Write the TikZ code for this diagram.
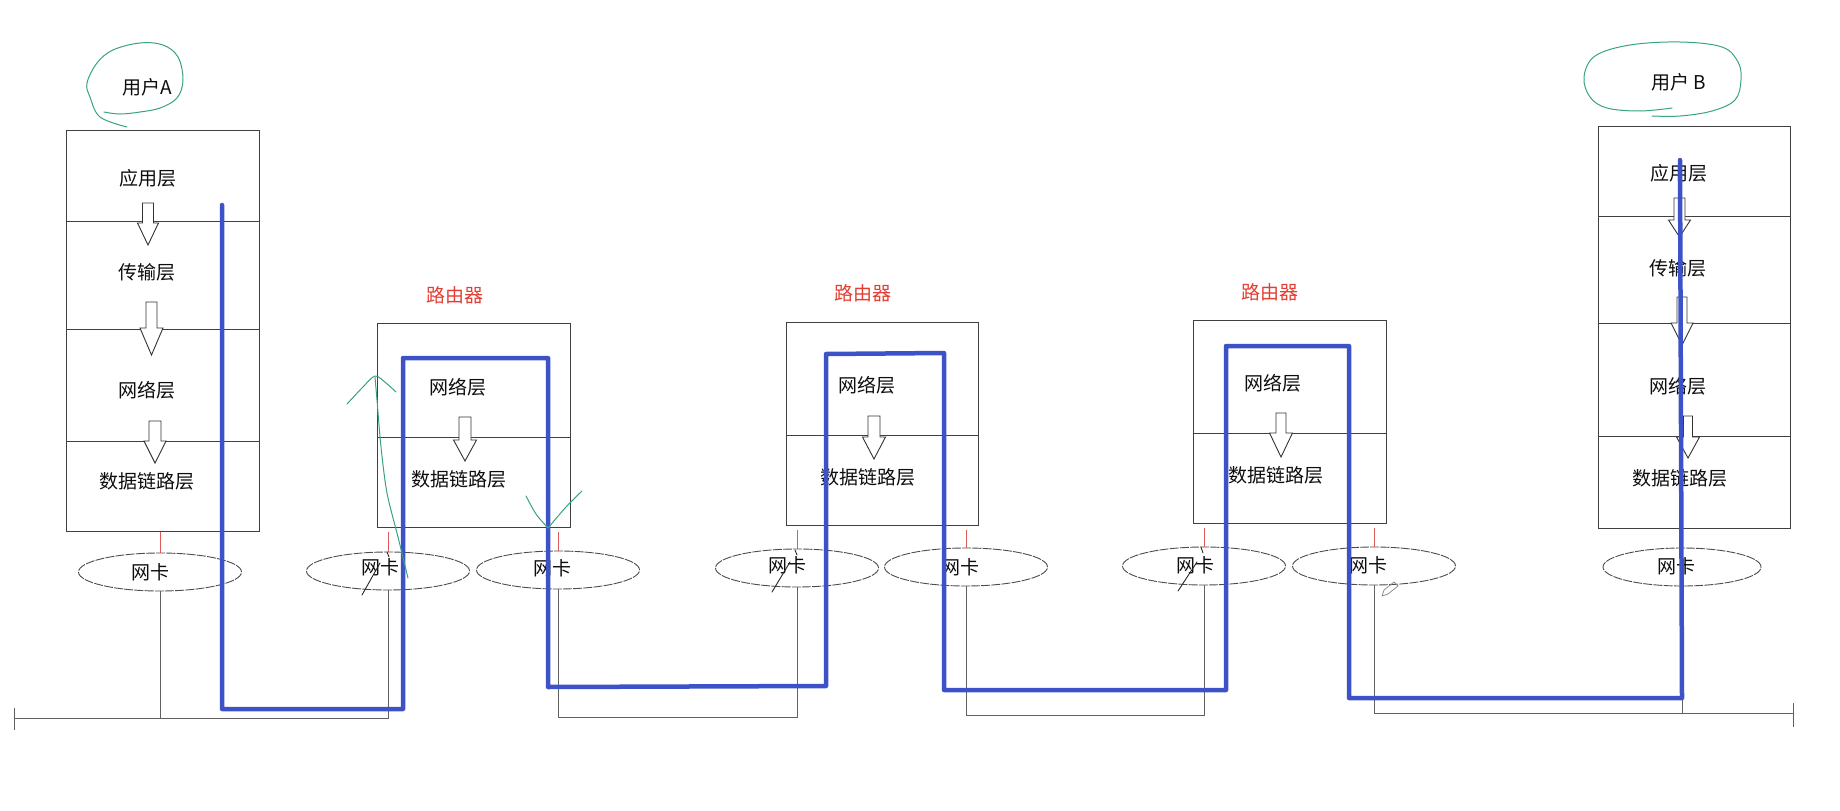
\documentclass[tikz,border=0pt]{standalone}
\usepackage{fontspec}
\setmainfont{Noto Sans CJK SC}
\usetikzlibrary{shapes.geometric}
\definecolor{pathblue}{RGB}{62,82,200}
\definecolor{penred}{RGB}{226,62,52}
\definecolor{thinred}{RGB}{225,90,90}
\definecolor{pengreen}{RGB}{55,165,120}
\newcommand{\blkarrow}[6]{\draw[harrow] (#1-#5,#2) -- (#1-#5,#3) -- (#1-#6,#3) -- (#1,#4) -- (#1+#6,#3) -- (#1+#5,#3) -- (#1+#5,#2) -- cycle;}
\begin{document}
\begin{tikzpicture}[x=1pt,y=-1pt,
  cell/.style={draw=black!75, line width=1pt, inner sep=0pt, anchor=north west},
  lbl/.style={font=\fontsize{19}{21}\selectfont, text=black!95, inner sep=0pt},
  rtitle/.style={font=\fontsize{19}{21}\selectfont, text=penred, inner sep=0pt},
  nic/.style={ellipse, draw=black!70, line width=0.9pt, dash pattern=on 9pt off 1.2pt, minimum width=163pt, minimum height=38pt, inner sep=0pt},
  redline/.style={draw=thinred, line width=0.8pt},
  wire/.style={draw=black!62, line width=1pt},
  harrow/.style={draw=black!80, fill=white, line width=0.9pt, line join=miter},
  bluepath/.style={draw=pathblue, line width=4.5pt, line join=round, line cap=round},
  greenpen/.style={draw=pengreen, line width=1pt, line cap=round, line join=round},
  blackpen/.style={draw=black!85, line width=0.9pt, line cap=round}
]
\useasboundingbox (0,0) rectangle (1840,811);

% ---------- host A ----------
\node[cell, minimum width=193pt, minimum height=91pt]  (Aapp) at (66,130) {};
\node[cell, minimum width=193pt, minimum height=108pt] (Atr)  at (66,221) {};
\node[cell, minimum width=193pt, minimum height=112pt] (Anet) at (66,329) {};
\node[cell, minimum width=193pt, minimum height=90pt]  (Adl)  at (66,441) {};
\blkarrow{148}{203}{223}{245}{5.5}{10.5}
\blkarrow{151.5}{302}{328}{355}{5.5}{11.5}
\blkarrow{155}{421}{441}{463}{6}{11}
\node[lbl] (tAapp) at (148,178) {应用层};
\node[lbl] (tAtr)  at (147,272) {传输层};
\node[lbl] (tAnet) at (147,390) {网络层};
\node[lbl] (tAdl)  at (147,481) {数据链路层};
\node[lbl] (userA) at (147,87) {用户A};

% ---------- router 1 ----------
\node[cell, minimum width=193pt, minimum height=114pt] (R1net) at (377,323) {};
\node[cell, minimum width=193pt, minimum height=90pt]  (R1dl)  at (377,437) {};
\blkarrow{465}{417}{440}{461}{6}{11.5}
\node[rtitle] (R1title) at (455,295) {路由器};
\node[lbl] (tR1net) at (458,387) {网络层};
\node[lbl] (tR1dl)  at (459,479) {数据链路层};

% ---------- router 2 ----------
\node[cell, minimum width=192pt, minimum height=113pt] (R2net) at (786,322) {};
\node[cell, minimum width=192pt, minimum height=90pt]  (R2dl)  at (786,435) {};
\blkarrow{874}{416}{437}{459}{6}{11.5}
\node[rtitle] (R2title) at (863,293) {路由器};
\node[lbl] (tR2net) at (867,385) {网络层};
\node[lbl] (tR2dl)  at (868,477) {数据链路层};

% ---------- router 3 ----------
\node[cell, minimum width=193pt, minimum height=113pt] (R3net) at (1193,320) {};
\node[cell, minimum width=193pt, minimum height=90pt]  (R3dl)  at (1193,433) {};
\blkarrow{1281}{413}{433}{457}{5}{11.5}
\node[rtitle] (R3title) at (1270,292) {路由器};
\node[lbl] (tR3net) at (1273,383) {网络层};
\node[lbl] (tR3dl)  at (1276,475) {数据链路层};

% ---------- host B ----------
\node[cell, minimum width=192pt, minimum height=90pt]  (Bapp) at (1598,126) {};
\node[cell, minimum width=192pt, minimum height=107pt] (Btr)  at (1598,216) {};
\node[cell, minimum width=192pt, minimum height=113pt] (Bnet) at (1598,323) {};
\node[cell, minimum width=192pt, minimum height=92pt]  (Bdl)  at (1598,436) {};
\blkarrow{1679.5}{198}{220}{237}{5.5}{11}
\blkarrow{1682}{297}{323}{345}{5}{11}
\blkarrow{1688}{416}{437}{458}{4.5}{11.5}
\node[lbl] (userB) at (1679,82) {用户 B};
\node[lbl] (tBapp) at (1679,173) {应用层};
\node[lbl] (tBtr)  at (1678,268) {传输层};
\node[lbl] (tBnet) at (1678,386) {网络层};
\node[lbl] (tBdl)  at (1680,478) {数据链路层};

% ---------- network cards ----------
\node[nic] (nicA)   at (160,572) {};
\node[nic] (nicR1L) at (388,571) {};
\node[nic] (nicR1R) at (558,570) {};
\node[nic] (nicR2L) at (797,568) {};
\node[nic] (nicR2R) at (966,567) {};
\node[nic] (nicR3L) at (1204,566) {};
\node[nic] (nicR3R) at (1374,566) {};
\node[nic, minimum width=158pt] (nicB) at (1682,567) {};
\node[lbl] (tnicA)   at (150,572) {网卡};
\node[lbl] (tnicR1L) at (380,567) {网卡};
\node[lbl] (tnicR1R) at (552,568) {网卡};
\node[lbl] (tnicR2L) at (787,565) {网卡};
\node[lbl] (tnicR2R) at (960,567) {网卡};
\node[lbl] (tnicR3L) at (1195,565) {网卡};
\node[lbl] (tnicR3R) at (1368,565) {网卡};
\node[lbl] (tnicB)   at (1676,566) {网卡};

% red links box -> card
\draw[redline] (nicA.north |- Adl.south) -- (nicA.north);
\draw[redline] (nicR1L.north |- R1dl.south) ++(0,4) -- (nicR1L.north);
\draw[redline] (nicR1R.north |- R1dl.south) ++(0,4) -- (nicR1R.north);
\draw[redline] (nicR2L.north |- R2dl.south) ++(0,4) -- (nicR2L.north);
\draw[redline] (nicR2R.north |- R2dl.south) ++(0,4) -- (nicR2R.north);
\draw[redline] (nicR3L.north |- R3dl.south) ++(0,4) -- (nicR3L.north);
\draw[redline] (nicR3R.north |- R3dl.south) ++(0,4) -- (nicR3R.north);
\draw[redline] (nicB.north |- Bdl.south) -- (nicB.north);

% ---------- cables ----------
\coordinate (L1) at (14,718);
\coordinate (y2) at (0,717);
\coordinate (y3) at (0,715);
\coordinate (L4) at (1793,713);
\draw[wire] (L1) ++(0,-10) -- ++(0,22);
\draw[wire] (nicA.south) -- (nicA.south |- L1);
\draw[wire] (L1) -- (nicR1L.south |- L1) -- (nicR1L.south);
\draw[wire] (nicR1R.south) -- (nicR1R.south |- y2) -- (nicR2L.south |- y2) -- (nicR2L.south);
\draw[wire] (nicR2R.south) -- (nicR2R.south |- y3) -- (nicR3L.south |- y3) -- (nicR3L.south);
\draw[wire] (nicR3R.south) -- (nicR3R.south |- L4) -- (L4);
\draw[wire] (nicB.south) -- (nicB.south |- L4);
\draw[wire] (L4) ++(0,-10) -- ++(0,24);

% ---------- small pen marks ----------
\draw[blackpen] (387,552) -- (389,557);
\draw[blackpen] (380,563) -- (362,595);
\draw[blackpen] (795,550) -- (797,555);
\draw[blackpen] (790,562) -- (772,592);
\draw[blackpen] (1201,547) -- (1203,553);
\draw[blackpen] (1197,562) -- (1178,591);
\draw[draw=black!45, line width=0.8pt, line join=round] (1382,596) -- (1384,590) -- (1394,582) -- (1398,586) -- (1388,594) -- cycle;

% ---------- data path ----------
\draw[bluepath] (222,205) -- (222,709) -- (403,709) -- (403,358) -- (548,358) -- (548,687)
  -- (826,686) -- (826,354) -- (944,353) -- (944,690) -- (1226,690) -- (1226,346)
  -- (1349,346) -- (1349,698) -- (1682,698) -- (1680,160);

% ---------- green marks ----------
\draw[greenpen] plot[smooth, tension=0.6] coordinates {(104,112) (120,114) (140,112) (160,108) (177,98) (183,80) (178,57) (163,45) (140,43) (113,50) (97,63) (87,83) (90,97) (100,117) (127,127)};
\draw[greenpen] plot[smooth, tension=0.6] coordinates {(1672,108) (1640,111) (1607,108) (1590,97) (1584,77) (1595,56) (1630,45) (1680,42) (1722,47) (1738,62) (1741,80) (1735,100) (1712,111) (1680,116) (1652,116)};
\draw[greenpen] plot[smooth, tension=0.5] coordinates {(408,578) (398,537) (387,493) (381,447) (377,400) (375,377)};
\draw[greenpen] plot[smooth, tension=0.5] coordinates {(347,404) (362,388) (375,376) (386,383) (396,392)};
\draw[greenpen] plot[smooth, tension=0.5] coordinates {(526,496) (536,514) (548,528)};
\draw[greenpen] plot[smooth, tension=0.5] coordinates {(548,528) (566,507) (582,491)};
\end{tikzpicture}
\end{document}
